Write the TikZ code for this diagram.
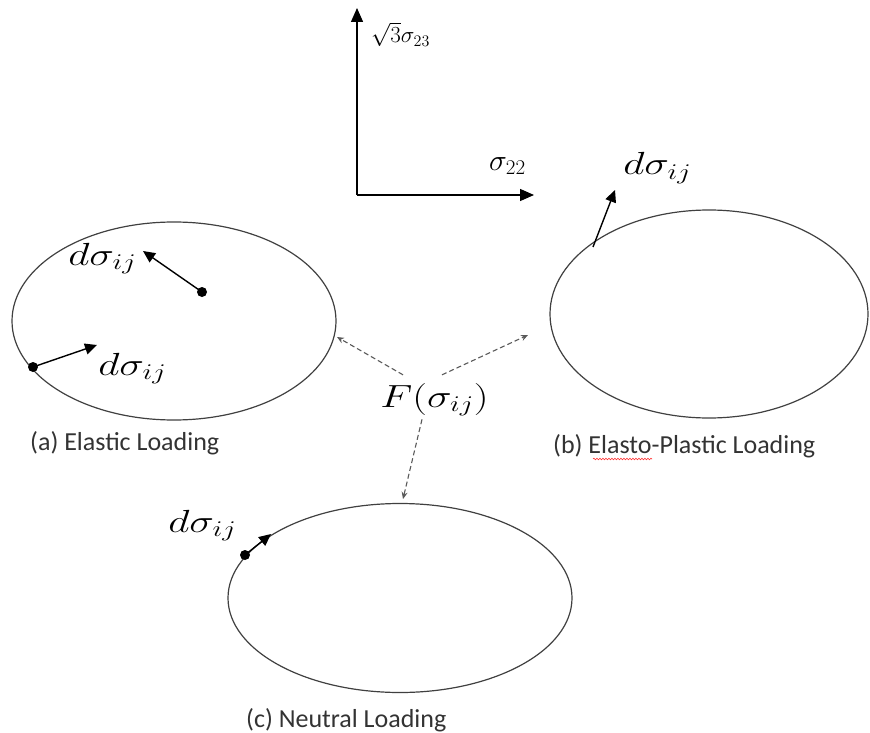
\documentclass[tikz,border=0pt]{standalone}
\usepackage{fix-cm}
\usepackage{fontspec}
\newfontfamily\capfont{Carlito}
\usetikzlibrary{shapes.geometric,arrows.meta,decorations.pathmorphing}

\tikzset{
  yield/.style={draw, ellipse, line width=1.2pt, black!75, inner sep=0pt},
  dot/.style={circle, fill=black, inner sep=0pt, minimum size=10pt},
  incr/.style={-{Triangle[length=12pt,width=11pt]}, line width=1.4pt},
  axis/.style={-{Triangle[length=14pt,width=12pt]}, line width=1.4pt},
  link/.style={dashed, dash pattern=on 5pt off 3pt, black!65, line width=1.1pt, -{Stealth[length=7pt,width=6pt]}},
  caption/.style={font=\capfont\fontsize{26}{28}\selectfont, text=black!80, anchor=west, inner sep=0pt},
  eq/.style={font=\fontsize{32}{36}\selectfont, xscale=1.3, anchor=base west, inner sep=0pt},
  axlabel/.style={anchor=base west, inner sep=0pt},
}
\newcommand{\dsig}{$d\sigma_{ij}$}

\begin{document}
\begin{tikzpicture}[x=1pt, y=-1pt]
  \useasboundingbox (0,0) rectangle (870,733);

  % axes
  \coordinate (O) at (357,195);
  \coordinate (ytip) at (357,8);
  \coordinate (xtip) at (534,195);
  \draw[axis] (O) -- (ytip);
  \draw[axis] (O) -- (xtip);
  \node[axlabel, font=\fontsize{30}{32}\selectfont] (s22) at (489,170) {$\sigma_{22}$};
  \node[axlabel, font=\fontsize{23}{25}\selectfont] (s23) at (371,43) {$\sqrt{3}\sigma_{23}$};

  % yield surfaces
  \node[yield, minimum width=324pt, minimum height=198pt] (elA) at (174,321) {};
  \node[yield, minimum width=318pt, minimum height=208pt] (elB) at (709,314) {};
  \node[yield, minimum width=344pt, minimum height=189pt] (elC) at (400,598) {};

  % (a) elastic
  \node[dot] (pA) at (202,292) {};
  \coordinate (tA) at (143,251);
  \draw[incr] (pA.center) -- (tA);
  \node[eq] (dA) at (68,265) {\dsig};
  \node[dot] (qA) at (33,367) {};
  \coordinate (uA) at (97,345);
  \draw[incr] (qA.center) -- (uA);
  \node[eq] (eA) at (98,375) {\dsig};

  % (b) elasto-plastic
  \coordinate (pB) at (593,247);
  \coordinate (tB) at (615,190);
  \draw[incr] (pB) -- (tB);
  \node[eq] (dB) at (623,175) {\dsig};

  % (c) neutral
  \node[dot] (pC) at (245,555) {};
  \coordinate (tC) at (271,534);
  \draw[incr] (pC.center) -- (tC);
  \node[eq] (dC) at (168,532) {\dsig};

  % yield function
  \node[eq] (F) at (380,407) {$F(\sigma_{ij})$};
  \coordinate (aA) at (337,337);
  \coordinate (aB) at (528,335);
  \coordinate (aC) at (403,499);
  \draw[link] ([xshift=23pt,yshift=8pt]F.north west) -- (aA);
  \draw[link] ([xshift=62pt,yshift=8pt]F.north west) -- (aB);
  \draw[link] ([xshift=42pt,yshift=-3pt]F.south west) -- (aC);

  % captions
  \node[caption] (capA) at (30,443) {(a) Elastic Loading};
  \node[caption] (capB) at (553,446) {(b) Elasto-Plastic Loading};
  \node[caption] (capC) at (246,720) {(c) Neutral Loading};
  \draw[red!80, line width=0.6pt, decorate, decoration={snake, amplitude=0.8pt, segment length=3pt}] (593,459) -- (652,459);
\end{tikzpicture}
\end{document}
